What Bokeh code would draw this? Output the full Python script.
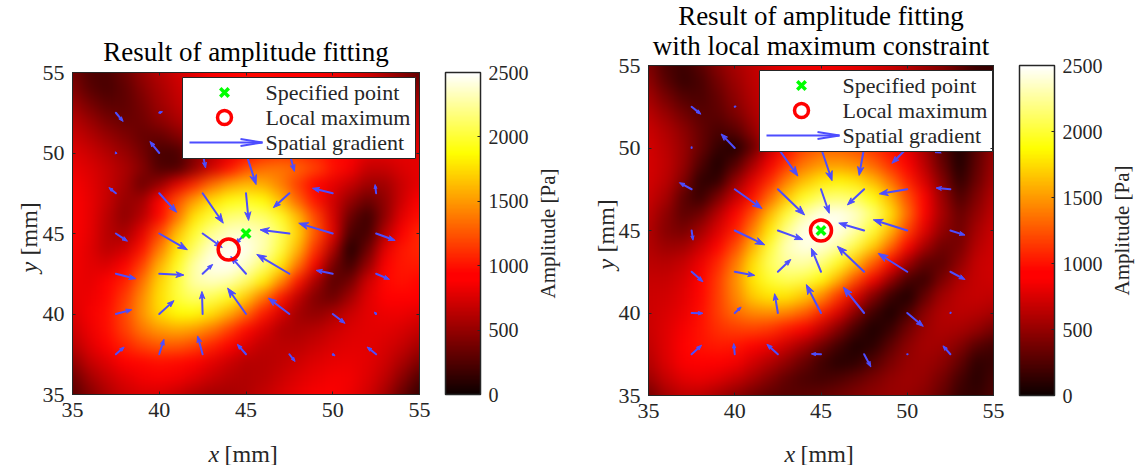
import math
import numpy as np
from bokeh.core.properties import value
from bokeh.embed import file_html
from bokeh.layouts import row
from bokeh.models import (ColorBar, ColumnDataSource, FixedTicker, Label, LinearAxis, LinearColorMapper)
from bokeh.plotting import figure
from bokeh.resources import INLINE

TITLE_LEFT = "Result of amplitude fitting"
TITLE_RIGHT = "Result of amplitude fitting\nwith local maximum constraint"
LEGEND_LABELS = ["Specified point", "Local maximum", "Spatial gradient"]
AXIS_TICKS = [35, 40, 45, 50, 55]
BAR_TICKS = [0, 500, 1000, 1500, 2000, 2500]
GRID_X = [35 + i for i in range(21)]
GRID_Y = [55 - i for i in range(21)]
ARROW_X = [37.5, 40, 42.5, 45, 47.5, 50, 52.5]
ARROW_Y = [52.5, 50, 47.5, 45, 42.5, 40, 37.5]

AMP_LEFT = [
    [380,240,230,350,500,620,720,800,870,930,960,960,930,900,870,830,780,700,560,420,300],
    [420,280,220,300,440,570,680,780,860,920,960,970,950,920,880,850,810,760,680,560,430],
    [520,390,290,300,400,530,640,750,840,910,960,980,970,940,900,860,830,790,740,660,560],
    [620,510,400,340,370,470,570,680,790,870,950,980,980,960,920,880,850,820,790,730,650],
    [700,610,510,420,330,330,420,560,690,820,930,1000,1020,1000,960,910,880,850,820,790,720],
    [770,700,610,510,390,220,220,430,620,790,940,1060,1110,1090,1030,950,870,790,790,810,790],
    [820,760,680,580,440,250,230,460,720,990,1220,1340,1360,1300,1190,1000,850,680,680,760,800],
    [860,790,690,560,350,500,800,1080,1330,1530,1620,1570,1400,1150,900,800,680,530,540,700,800],
    [880,810,680,500,540,880,1230,1520,1750,1900,1950,1880,1620,1300,1000,720,500,350,480,720,880],
    [880,810,640,470,620,950,1350,1780,2000,2150,2180,2120,1950,1620,1200,750,350,170,480,800,980],
    [880,800,620,560,800,1200,1650,1980,2220,2350,2370,2300,2080,1720,1250,800,220,200,620,880,1080],
    [860,780,640,720,1000,1400,1800,2120,2380,2490,2460,2300,2020,1600,1100,600,60,350,800,1020,1080],
    [840,790,760,880,1180,1600,1950,2280,2460,2480,2360,2130,1800,1350,850,380,180,500,880,1020,1030],
    [830,800,880,1050,1350,1720,2020,2280,2340,2290,2110,1820,1430,1000,560,280,380,720,960,1000,950],
    [800,830,950,1150,1450,1760,2020,2120,2080,1930,1680,1350,1000,650,420,350,550,780,900,930,880],
    [760,850,980,1200,1480,1730,1870,1880,1760,1570,1310,1020,750,540,480,580,700,790,830,830,780],
    [700,830,980,1170,1370,1500,1560,1510,1370,1170,960,760,600,580,620,700,760,790,790,750,680],
    [620,780,900,1060,1180,1250,1260,1190,1060,900,760,650,640,640,700,760,790,790,750,680,560],
    [480,680,780,900,960,990,970,900,800,700,620,620,650,710,770,810,820,790,710,580,420],
    [350,550,680,780,840,860,840,780,690,620,600,630,700,770,820,850,840,770,650,460,260],
    [280,440,590,700,750,750,690,610,560,560,600,670,750,820,860,870,830,730,560,340,150],
]
AMP_RIGHT = [
    [420,230,170,280,440,570,660,730,790,820,830,820,790,740,680,610,520,430,300,160,120],
    [480,280,150,220,380,520,640,720,800,830,850,840,810,760,700,630,540,420,280,180,240],
    [560,400,260,230,320,470,610,710,800,860,880,870,840,790,720,640,530,380,240,170,300],
    [640,510,380,280,290,410,560,700,820,900,940,940,900,840,760,660,520,340,190,190,380],
    [700,600,470,330,220,280,470,700,880,1000,1060,1050,1000,930,840,710,520,290,110,230,450],
    [730,640,510,340,150,70,320,680,960,1180,1280,1280,1220,1110,970,800,560,270,50,280,500],
    [740,660,500,250,60,250,560,850,1130,1370,1480,1500,1440,1300,1100,880,640,340,60,310,530],
    [730,640,430,120,120,480,780,1080,1400,1640,1790,1840,1780,1610,1340,1050,750,430,120,350,560],
    [700,570,290,150,400,680,980,1320,1660,1950,2110,2150,2090,1900,1600,1230,880,520,230,420,620],
    [650,470,290,360,620,880,1220,1620,2000,2280,2440,2460,2370,2150,1770,1330,900,560,330,490,660],
    [610,440,390,540,760,1030,1400,1800,2200,2440,2500,2440,2280,2000,1620,1180,790,490,360,560,700],
    [610,520,540,700,930,1210,1600,2010,2330,2440,2400,2270,2040,1700,1320,900,570,360,400,620,720],
    [640,620,680,830,1070,1370,1760,2090,2260,2280,2180,1950,1640,1280,900,540,300,300,480,680,720],
    [680,680,750,900,1150,1460,1790,2000,2090,2050,1880,1590,1230,860,500,220,160,410,600,680,710],
    [700,720,790,950,1160,1420,1680,1790,1790,1670,1450,1130,780,430,170,60,320,550,650,680,660],
    [700,750,820,980,1160,1330,1440,1470,1420,1290,1060,770,450,180,50,220,470,610,640,620,560],
    [690,770,860,1000,1110,1160,1180,1130,1020,870,670,430,200,60,160,380,530,590,570,500,390],
    [660,780,900,1000,1030,1010,930,830,700,540,360,190,60,110,300,470,560,540,440,280,200],
    [610,760,870,930,920,850,730,610,480,340,190,100,120,260,410,510,530,470,320,130,160],
    [520,680,790,820,770,680,560,430,310,230,200,240,320,410,490,530,500,390,210,100,210],
    [380,560,660,650,570,470,380,310,280,290,320,370,420,470,510,510,450,330,160,140,230],
]

# gradient arrows, rows follow ARROW_Y, columns follow ARROW_X (mm)
U_LEFT = [[.42,.19,.19,.29,0,-.19,-.10],
          [-.02,-.54,.17,.58,.29,0,0],
          [-.40,1.00,1.19,.15,-.92,-1.17,-.06],
          [.67,1.62,1.13,-.63,-1.69,-1.96,1.10],
          [1.15,1.42,.58,-.88,-1.88,-.96,.77],
          [.92,.85,-.04,-1.06,-1.21,.71,-.10],
          [.48,.27,-.29,-.50,.33,.13,-.52]]
V_LEFT = [[-.54,.06,-.31,-.52,-.41,-.31,-.10],
          [.08,.72,-.93,-1.96,-1.14,-.21,.10],
          [.35,-1.18,-1.86,-1.69,-.89,.31,.54],
          [-.48,-1.01,-.87,-.64,.23,.64,-.43],
          [-.31,-.08,.58,1.07,1.20,.21,-.35],
          [.27,.83,1.40,1.61,.99,-.58,.12],
          [.45,.93,1.14,.62,-.45,-.10,.45]]
U_RIGHT = [[.54,.04,.39,.19,-.19,-.39,-.19],
           [0,-.79,1.16,.64,-.29,-.89,-.89],
           [-.71,1.58,1.55,.48,-.97,-1.62,-.83],
           [.08,1.74,1.45,.06,-1.47,-1.97,.85],
           [.66,1.16,.75,-.56,-1.55,-1.68,.85],
           [.66,.37,-.19,-.85,-1.20,.93,.02],
           [.58,-.06,-.64,-.56,.39,.02,-.43]]
V_RIGHT = [[-.45,.02,-.61,-.61,-.61,-.40,-.10],
           [.04,.85,-1.70,-1.98,-1.66,-.93,-.28],
           [.40,-1.17,-1.56,-1.46,-.95,-.28,.08],
           [-.59,-.87,-.55,-.06,.45,.65,-.28],
           [-.61,-.22,.75,1.42,1.54,1.11,-.47],
           [-.02,.36,1.17,1.72,1.56,-.81,.02],
           [.55,.65,.61,.02,-.77,0,.51]]

SPECIFIED = (45, 45)
MAX_LEFT = (44, 44)
MAX_RIGHT = (45, 45)

INK = "#262626"
BLUE = "#4d4dff"
SERIF = "Liberation Serif"


def hot(n=256):
    out = []
    for i in range(n):
        t = i / (n - 1)
        r = min(1, (t + 0.02) / 0.375)
        g = min(1, max(0, (t - 0.375) / 0.375))
        b = min(1, max(0, (t - 0.75) / 0.25))
        out.append("#%02x%02x%02x" % (round(r * 255), round(g * 255), round(b * 255)))
    return out


mapper = LinearColorMapper(palette=hot(), low=0, high=2500)


def panel(L, R, T, B, amp, U, V, mx, title, title_bottom, border_left, border_right, lx, ly, ylab_x, bar_dx,
          bar_lab_x, mid, xlab_x):
    sx = (R - L) / 20
    sy = (B - T) / 20
    X = lambda px: 35 + (px - L) / sx
    Y = lambda py: 35 + (B - py) / sy
    p = figure(frame_width=R - L, frame_height=B - T, x_range=(35, 55), y_range=(35, 55),
               min_border_left=border_left, min_border_right=border_right, min_border_top=T,
               min_border_bottom=463 - B, output_backend="svg", toolbar_location=None, tools="",
               frame_align=False)
    p.grid.visible = False
    p.outline_line_color = INK
    p.outline_line_width = 1
    p.background_fill_color = "#000000"

    pad = 4
    cells = np.pad(np.array(amp, dtype=float)[::-1], pad, mode="edge")
    p.image(image=[cells], x=GRID_X[0] - .5 - pad, y=GRID_Y[-1] - .5 - pad, dw=21 + 2 * pad, dh=21 + 2 * pad,
            color_mapper=mapper)

    for ax in (p.xaxis[0], p.yaxis[0]):
        ax.ticker = FixedTicker(ticks=AXIS_TICKS)
        ax.major_tick_in = 3
        ax.major_tick_out = 0
        ax.minor_tick_line_color = None
        ax.axis_line_color = INK
        ax.major_tick_line_color = INK
        ax.major_label_text_font = SERIF
        ax.major_label_text_font_size = "22px"
        ax.major_label_text_color = INK
        ax.major_label_standoff = 8
    p.yaxis[0].major_label_orientation = "horizontal"
    blank = {t: "" for t in AXIS_TICKS}
    for side in ("above", "right"):
        ax = LinearAxis(ticker=FixedTicker(ticks=AXIS_TICKS), major_tick_in=3, major_tick_out=0,
                        minor_tick_line_color=None, axis_line_color=INK, major_tick_line_color=INK,
                        major_label_overrides=blank, major_label_text_font_size="1px",
                        major_label_standoff=0)
        p.add_layout(ax, side)

    # quiver: shafts and heads, from the tables
    x0, y0, x1, y1, hx, hy = [], [], [], [], [], []
    for j, yy in enumerate(ARROW_Y):
        for i, xx in enumerate(ARROW_X):
            u, v = U[j][i], V[j][i]
            px, py = u * sx, v * sy
            n = math.hypot(px, py)
            x0.append(xx)
            y0.append(yy)
            tx, ty = xx + u, yy + v
            if n < 1:
                x1.append(tx)
                y1.append(ty)
                continue
            ex, ey = px / n, py / n
            hl = min(9.5, 2.0 + 0.24 * n)
            hw = 0.36 * hl
            x1.append(tx - 0.6 * hl * ex / sx)
            y1.append(ty - 0.6 * hl * ey / sy)
            hx.append([tx, tx + (-hl * ex - hw * ey) / sx, tx - 0.7 * hl * ex / sx, tx + (-hl * ex + hw * ey) / sx])
            hy.append([ty, ty + (-hl * ey + hw * ex) / sy, ty - 0.7 * hl * ey / sy, ty + (-hl * ey - hw * ex) / sy])
    p.segment(x0="x0", y0="y0", x1="x1", y1="y1", line_color=BLUE, line_width=2, line_cap="round",
              source=ColumnDataSource(dict(x0=x0, y0=y0, x1=x1, y1=y1)))
    p.patches(hx, hy, fill_color=BLUE, line_color=BLUE, line_width=1)

    p.scatter([mx[0]], [mx[1]], marker="circle", size=21, fill_alpha=0, line_color="#ff0000", line_width=3.5)
    p.scatter([SPECIFIED[0]], [SPECIFIED[1]], marker="x", size=12, line_color="#00ff00", line_width=3.5)

    # legend box with its keys and real texts
    p.quad(left=[X(lx)], right=[X(lx + 233)], top=[Y(ly)], bottom=[Y(ly + 81)], fill_color="#ffffff",
           line_color=INK, line_width=1)
    rows = [ly + 15, ly + 40, ly + 65]
    p.scatter([X(lx + 42)], [Y(rows[0])], marker="x", size=12, line_color="#00ff00", line_width=3.5)
    p.scatter([X(lx + 42)], [Y(rows[1])], marker="circle", size=14, fill_alpha=0, line_color="#ff0000", line_width=3.5)
    tipx = lx + 80
    p.line([X(lx + 7), X(tipx)], [Y(rows[2]), Y(rows[2])], line_color=BLUE, line_width=2)
    p.line([X(tipx - 22), X(tipx), X(tipx - 22)], [Y(rows[2] - 3.5), Y(rows[2]), Y(rows[2] + 3.5)],
           line_color=BLUE, line_width=2)
    p.text(x=[X(lx + 83)] * 3, y=[Y(r) for r in rows], text=LEGEND_LABELS, text_font=value(SERIF),
           text_font_size="22px", text_color=INK, text_align="left", text_baseline="middle")

    # colour bar
    bar = ColorBar(color_mapper=mapper, ticker=FixedTicker(ticks=BAR_TICKS), width=35, height=B - T,
                   location=(bar_dx, 0), padding=0, margin=0, major_tick_in=3, major_tick_out=0,
                   major_tick_line_color=INK, bar_line_color=INK, bar_line_width=1.5, border_line_color=None,
                   background_fill_alpha=0, label_standoff=8, major_label_text_font=SERIF,
                   major_label_text_font_size="20px", major_label_text_color=INK, minor_tick_line_color=None)
    p.add_layout(bar, "right")

    # texts outside the frame sit in the side panels, where they are not cut by the frame
    p.add_layout(Label(x=X((L + R) / 2), y=Y(title_bottom), text=title, text_align="center", text_baseline="bottom",
                       text_font=SERIF, text_font_size="27px", text_color="#000000", text_line_height=1.0), "above")
    base = dict(text_font=SERIF, text_font_size="24px", text_color=INK, text_align="left", text_baseline="alphabetic")
    p.add_layout(Label(x=X(xlab_x), y=Y(453), text="x", text_font_style="italic", **base), "below")
    p.add_layout(Label(x=X(xlab_x + 16), y=Y(453), text="[mm]", **base), "below")
    p.add_layout(Label(x=X(ylab_x), y=Y(mid + 39), text="y", text_font_style="italic", angle=math.pi / 2, **base), "left")
    p.add_layout(Label(x=X(ylab_x), y=Y(mid + 22), text="[mm]", angle=math.pi / 2, **base), "right")
    p.add_layout(Label(x=X(bar_lab_x), y=Y(mid), text="Amplitude [Pa]", text_align="center",
                       text_baseline="middle", angle=math.pi / 2, text_font=SERIF, text_font_size="21px",
                       text_color=INK), "right")
    return p


left = panel(72, 419, 72, 394, AMP_LEFT, U_LEFT, V_LEFT, MAX_LEFT, TITLE_LEFT, 66, 72, 163,
             182, 77, 28, 26, 547, 233, 208)
right = panel(648, 993, 65, 395, AMP_RIGHT, U_RIGHT, V_RIGHT, MAX_RIGHT, TITLE_RIGHT, 60, 66, 143,
              759, 70, 605, 26, 1121, 230, 784)

page = row(left, right, spacing=0)

# the browser softens the amplitude cells on screen, so the table itself stays as read
SOFTEN = """<style>html,body{overflow:hidden}</style><script>
function walk(root){root.querySelectorAll('*').forEach(function(e){
  if(e.tagName==='image' && parseFloat(e.getAttribute('width'))>60){e.style.filter='blur(7px)';}
  if(e.shadowRoot){walk(e.shadowRoot);}
});}
setInterval(function(){walk(document);},100);
</script></body>"""
html = file_html(page, INLINE).replace("</body>", SOFTEN)
open("out.html", "w").write(html)
